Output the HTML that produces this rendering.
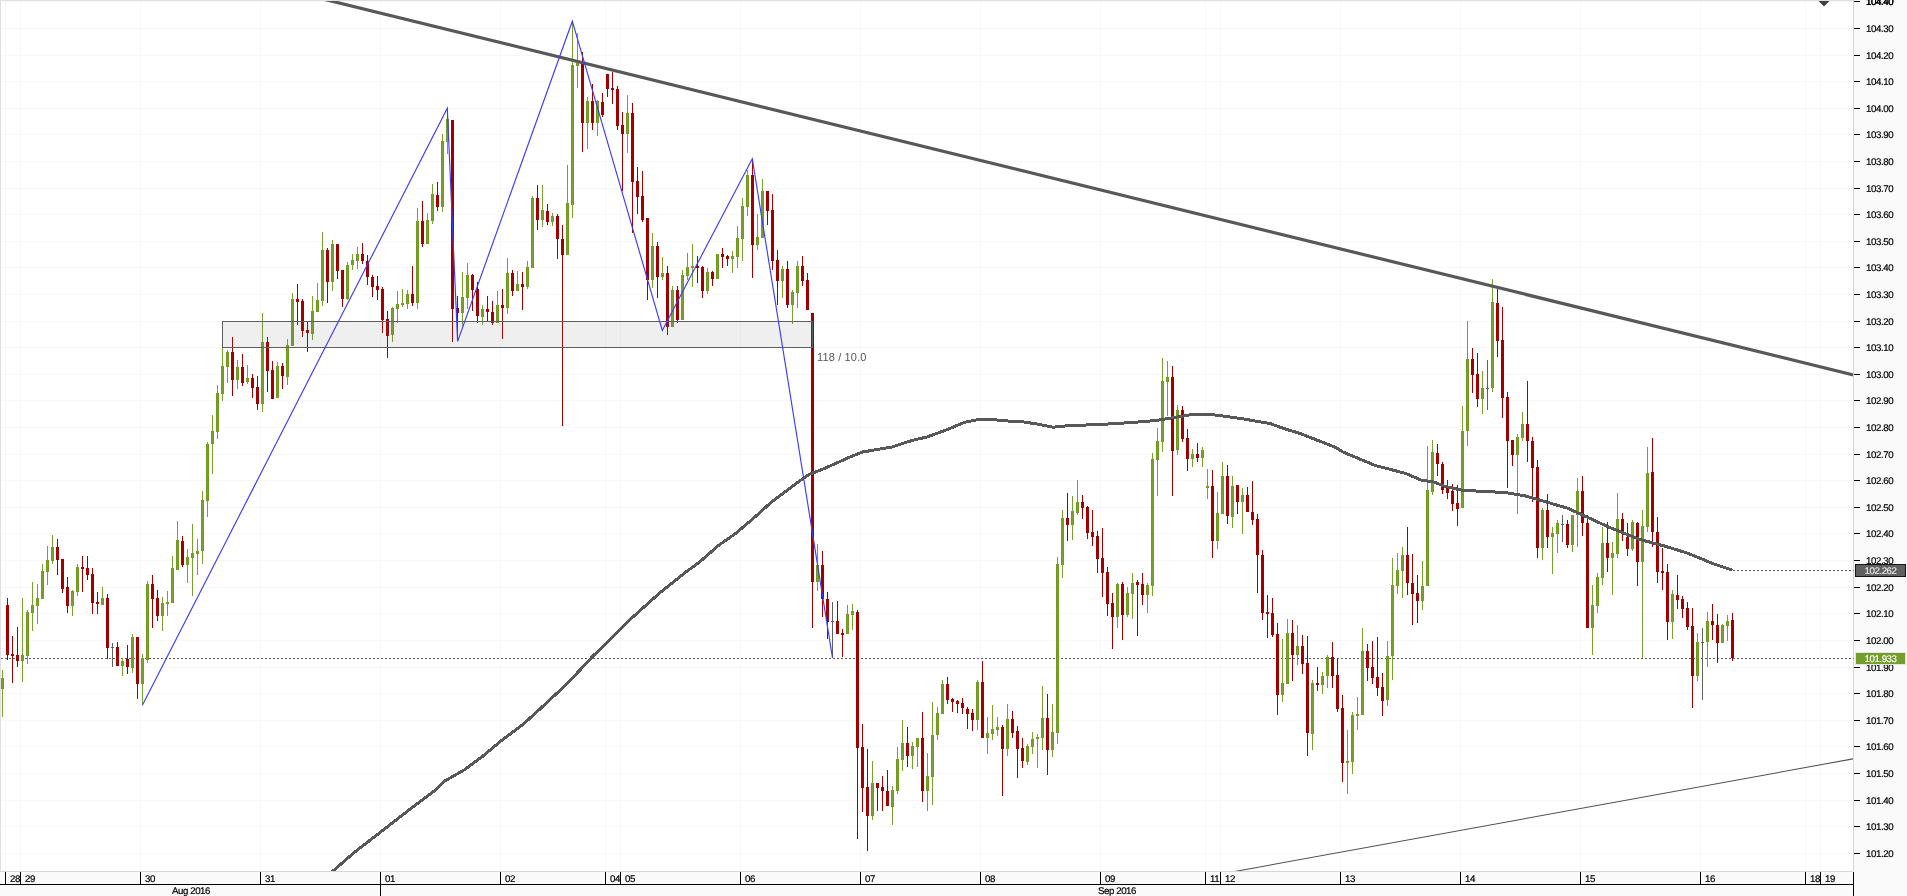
<!DOCTYPE html>
<html><head><meta charset="utf-8"><title>chart</title>
<style>
html,body{margin:0;padding:0;background:#fff;}
body{width:1907px;height:896px;position:relative;overflow:hidden;font-family:"Liberation Sans",sans-serif;}
.pl{position:absolute;left:1866px;font-size:9.7px;line-height:10px;height:10px;color:#000;letter-spacing:-0.42px;text-rendering:geometricPrecision;-webkit-text-stroke:0.2px #000;white-space:nowrap}
.dl{position:absolute;top:875px;font-size:9.7px;line-height:10px;color:#000;letter-spacing:-0.42px;text-rendering:geometricPrecision;-webkit-text-stroke:0.2px #000;white-space:nowrap}
.ml{position:absolute;top:887px;font-size:9.7px;line-height:10px;color:#000;text-align:center;white-space:nowrap;letter-spacing:-0.42px;text-rendering:geometricPrecision;-webkit-text-stroke:0.2px #000}
.bx{position:absolute;left:1855px;width:49px;height:9px;padding-top:2px;border:1px solid #000;text-align:center;font-size:9.7px;line-height:10px;letter-spacing:-0.42px;text-rendering:geometricPrecision;white-space:nowrap;-webkit-text-stroke:0.15px currentColor}
.rr{position:absolute;left:817px;top:351px;font-size:11px;line-height:12px;color:#555;letter-spacing:0.15px;white-space:nowrap}
</style></head><body>
<svg width="1907" height="896" viewBox="0 0 1907 896" style="position:absolute;left:0;top:0"><g fill="#f8f8f8" shape-rendering="crispEdges"><rect x="1" y="853" width="1852" height="1"/><rect x="1" y="826" width="1852" height="1"/><rect x="1" y="800" width="1852" height="1"/><rect x="1" y="773" width="1852" height="1"/><rect x="1" y="746" width="1852" height="1"/><rect x="1" y="720" width="1852" height="1"/><rect x="1" y="693" width="1852" height="1"/><rect x="1" y="667" width="1852" height="1"/><rect x="1" y="640" width="1852" height="1"/><rect x="1" y="613" width="1852" height="1"/><rect x="1" y="587" width="1852" height="1"/><rect x="1" y="560" width="1852" height="1"/><rect x="1" y="533" width="1852" height="1"/><rect x="1" y="507" width="1852" height="1"/><rect x="1" y="480" width="1852" height="1"/><rect x="1" y="454" width="1852" height="1"/><rect x="1" y="427" width="1852" height="1"/><rect x="1" y="400" width="1852" height="1"/><rect x="1" y="374" width="1852" height="1"/><rect x="1" y="347" width="1852" height="1"/><rect x="1" y="321" width="1852" height="1"/><rect x="1" y="294" width="1852" height="1"/><rect x="1" y="267" width="1852" height="1"/><rect x="1" y="241" width="1852" height="1"/><rect x="1" y="214" width="1852" height="1"/><rect x="1" y="188" width="1852" height="1"/><rect x="1" y="161" width="1852" height="1"/><rect x="1" y="134" width="1852" height="1"/><rect x="1" y="108" width="1852" height="1"/><rect x="1" y="81" width="1852" height="1"/><rect x="1" y="55" width="1852" height="1"/><rect x="1" y="28" width="1852" height="1"/><rect x="1" y="1" width="1852" height="1"/><rect x="5" y="1" width="1" height="870"/><rect x="20" y="1" width="1" height="870"/><rect x="140" y="1" width="1" height="870"/><rect x="260" y="1" width="1" height="870"/><rect x="380" y="1" width="1" height="870"/><rect x="500" y="1" width="1" height="870"/><rect x="605" y="1" width="1" height="870"/><rect x="620" y="1" width="1" height="870"/><rect x="740" y="1" width="1" height="870"/><rect x="860" y="1" width="1" height="870"/><rect x="980" y="1" width="1" height="870"/><rect x="1100" y="1" width="1" height="870"/><rect x="1205" y="1" width="1" height="870"/><rect x="1220" y="1" width="1" height="870"/><rect x="1340" y="1" width="1" height="870"/><rect x="1460" y="1" width="1" height="870"/><rect x="1580" y="1" width="1" height="870"/><rect x="1700" y="1" width="1" height="870"/><rect x="1805" y="1" width="1" height="870"/><rect x="1820" y="1" width="1" height="870"/></g><path d="M1 658.5H1853" stroke="#5a5a5a" stroke-width="1" stroke-dasharray="2 2" shape-rendering="crispEdges"/><g fill="#70991f" shape-rendering="crispEdges"><rect x="1" y="678" width="3" height="11"/><rect x="21" y="655" width="3" height="6"/><rect x="26" y="612" width="3" height="44"/><rect x="31" y="605" width="3" height="8"/><rect x="36" y="598" width="3" height="8"/><rect x="41" y="571" width="3" height="28"/><rect x="46" y="560" width="3" height="12"/><rect x="51" y="547" width="3" height="14"/><rect x="71" y="591" width="3" height="15"/><rect x="76" y="567" width="3" height="25"/><rect x="101" y="598" width="3" height="7"/><rect x="121" y="661" width="3" height="5"/><rect x="131" y="637" width="3" height="31"/><rect x="141" y="658" width="3" height="26"/><rect x="146" y="584" width="3" height="76"/><rect x="161" y="603" width="3" height="13"/><rect x="166" y="602" width="3" height="2"/><rect x="171" y="568" width="3" height="35"/><rect x="176" y="540" width="3" height="30"/><rect x="186" y="557" width="3" height="8"/><rect x="191" y="553" width="3" height="5"/><rect x="196" y="551" width="3" height="3"/><rect x="201" y="500" width="3" height="51"/><rect x="206" y="444" width="3" height="57"/><rect x="211" y="431" width="3" height="13"/><rect x="216" y="393" width="3" height="39"/><rect x="221" y="366" width="3" height="28"/><rect x="226" y="352" width="3" height="15"/><rect x="236" y="367" width="3" height="13"/><rect x="246" y="378" width="3" height="4"/><rect x="261" y="342" width="3" height="62"/><rect x="276" y="366" width="3" height="32"/><rect x="286" y="345" width="3" height="32"/><rect x="291" y="299" width="3" height="47"/><rect x="311" y="311" width="3" height="23"/><rect x="316" y="300" width="3" height="12"/><rect x="321" y="250" width="3" height="51"/><rect x="331" y="244" width="3" height="38"/><rect x="346" y="265" width="3" height="34"/><rect x="351" y="260" width="3" height="5"/><rect x="356" y="254" width="3" height="7"/><rect x="391" y="308" width="3" height="27"/><rect x="396" y="304" width="3" height="5"/><rect x="401" y="303" width="3" height="2"/><rect x="406" y="294" width="3" height="10"/><rect x="416" y="221" width="3" height="82"/><rect x="426" y="220" width="3" height="24"/><rect x="431" y="194" width="3" height="27"/><rect x="441" y="141" width="3" height="66"/><rect x="446" y="119" width="3" height="23"/><rect x="461" y="297" width="3" height="16"/><rect x="466" y="275" width="3" height="23"/><rect x="481" y="309" width="3" height="8"/><rect x="496" y="305" width="3" height="18"/><rect x="506" y="273" width="3" height="35"/><rect x="516" y="284" width="3" height="7"/><rect x="526" y="267" width="3" height="20"/><rect x="531" y="198" width="3" height="70"/><rect x="541" y="210" width="3" height="10"/><rect x="551" y="216" width="3" height="6"/><rect x="566" y="203" width="3" height="52"/><rect x="571" y="65" width="3" height="140"/><rect x="576" y="63" width="3" height="3"/><rect x="586" y="101" width="3" height="22"/><rect x="596" y="101" width="3" height="22"/><rect x="626" y="113" width="3" height="21"/><rect x="651" y="246" width="3" height="34"/><rect x="661" y="273" width="3" height="4"/><rect x="671" y="290" width="3" height="37"/><rect x="681" y="275" width="3" height="45"/><rect x="686" y="267" width="3" height="9"/><rect x="691" y="266" width="3" height="2"/><rect x="706" y="272" width="3" height="19"/><rect x="716" y="254" width="3" height="25"/><rect x="731" y="256" width="3" height="3"/><rect x="736" y="238" width="3" height="19"/><rect x="741" y="206" width="3" height="33"/><rect x="746" y="175" width="3" height="32"/><rect x="756" y="237" width="3" height="8"/><rect x="761" y="191" width="3" height="47"/><rect x="781" y="269" width="3" height="12"/><rect x="791" y="292" width="3" height="13"/><rect x="796" y="266" width="3" height="27"/><rect x="816" y="565" width="3" height="17"/><rect x="846" y="614" width="3" height="20"/><rect x="851" y="611" width="3" height="4"/><rect x="871" y="783" width="3" height="33"/><rect x="891" y="790" width="3" height="17"/><rect x="896" y="759" width="3" height="32"/><rect x="901" y="743" width="3" height="17"/><rect x="911" y="746" width="3" height="10"/><rect x="916" y="738" width="3" height="9"/><rect x="926" y="776" width="3" height="15"/><rect x="931" y="735" width="3" height="42"/><rect x="936" y="713" width="3" height="22"/><rect x="941" y="684" width="3" height="30"/><rect x="976" y="682" width="3" height="38"/><rect x="986" y="733" width="3" height="5"/><rect x="991" y="729" width="3" height="5"/><rect x="996" y="727" width="3" height="3"/><rect x="1006" y="719" width="3" height="30"/><rect x="1026" y="746" width="3" height="16"/><rect x="1031" y="739" width="3" height="8"/><rect x="1036" y="737" width="3" height="2"/><rect x="1041" y="718" width="3" height="20"/><rect x="1051" y="732" width="3" height="18"/><rect x="1056" y="564" width="3" height="169"/><rect x="1061" y="518" width="3" height="47"/><rect x="1071" y="511" width="3" height="14"/><rect x="1076" y="502" width="3" height="11"/><rect x="1116" y="584" width="3" height="33"/><rect x="1126" y="593" width="3" height="22"/><rect x="1131" y="583" width="3" height="11"/><rect x="1146" y="585" width="3" height="10"/><rect x="1151" y="459" width="3" height="127"/><rect x="1156" y="441" width="3" height="19"/><rect x="1161" y="381" width="3" height="61"/><rect x="1166" y="377" width="3" height="5"/><rect x="1176" y="410" width="3" height="40"/><rect x="1191" y="454" width="3" height="5"/><rect x="1201" y="450" width="3" height="8"/><rect x="1206" y="486" width="3" height="2"/><rect x="1216" y="513" width="3" height="28"/><rect x="1221" y="476" width="3" height="38"/><rect x="1231" y="486" width="3" height="31"/><rect x="1241" y="495" width="3" height="7"/><rect x="1281" y="683" width="3" height="12"/><rect x="1286" y="633" width="3" height="51"/><rect x="1296" y="646" width="3" height="9"/><rect x="1311" y="683" width="3" height="51"/><rect x="1321" y="676" width="3" height="9"/><rect x="1326" y="657" width="3" height="19"/><rect x="1346" y="761" width="3" height="2"/><rect x="1351" y="715" width="3" height="47"/><rect x="1356" y="714" width="3" height="2"/><rect x="1361" y="651" width="3" height="64"/><rect x="1386" y="656" width="3" height="44"/><rect x="1391" y="585" width="3" height="71"/><rect x="1396" y="570" width="3" height="16"/><rect x="1401" y="555" width="3" height="16"/><rect x="1421" y="586" width="3" height="15"/><rect x="1426" y="490" width="3" height="96"/><rect x="1431" y="452" width="3" height="40"/><rect x="1461" y="431" width="3" height="77"/><rect x="1466" y="359" width="3" height="72"/><rect x="1481" y="388" width="3" height="11"/><rect x="1491" y="302" width="3" height="86"/><rect x="1516" y="437" width="3" height="18"/><rect x="1521" y="424" width="3" height="14"/><rect x="1541" y="510" width="3" height="38"/><rect x="1551" y="533" width="3" height="4"/><rect x="1556" y="523" width="3" height="11"/><rect x="1571" y="515" width="3" height="30"/><rect x="1576" y="491" width="3" height="24"/><rect x="1591" y="605" width="3" height="23"/><rect x="1596" y="577" width="3" height="29"/><rect x="1601" y="543" width="3" height="35"/><rect x="1611" y="553" width="3" height="5"/><rect x="1616" y="519" width="3" height="35"/><rect x="1631" y="522" width="3" height="27"/><rect x="1641" y="526" width="3" height="36"/><rect x="1646" y="473" width="3" height="54"/><rect x="1671" y="594" width="3" height="28"/><rect x="1696" y="642" width="3" height="34"/><rect x="1706" y="621" width="3" height="21"/><rect x="1721" y="625" width="3" height="18"/><rect x="1726" y="621" width="3" height="5"/></g><g fill="#7aa12e" shape-rendering="crispEdges"><rect x="2" y="670" width="1" height="47"/><rect x="22" y="598" width="1" height="84"/><rect x="27" y="610" width="1" height="54"/><rect x="32" y="582" width="1" height="49"/><rect x="37" y="584" width="1" height="40"/><rect x="42" y="564" width="1" height="35"/><rect x="47" y="546" width="1" height="39"/><rect x="52" y="535" width="1" height="29"/><rect x="72" y="590" width="1" height="26"/><rect x="77" y="564" width="1" height="32"/><rect x="102" y="587" width="1" height="18"/><rect x="122" y="658" width="1" height="18"/><rect x="132" y="634" width="1" height="39"/><rect x="142" y="654" width="1" height="50"/><rect x="147" y="581" width="1" height="82"/><rect x="162" y="597" width="1" height="34"/><rect x="167" y="591" width="1" height="25"/><rect x="172" y="556" width="1" height="47"/><rect x="177" y="521" width="1" height="49"/><rect x="187" y="549" width="1" height="34"/><rect x="192" y="524" width="1" height="72"/><rect x="197" y="539" width="1" height="36"/><rect x="202" y="491" width="1" height="73"/><rect x="207" y="442" width="1" height="75"/><rect x="212" y="415" width="1" height="59"/><rect x="217" y="385" width="1" height="54"/><rect x="222" y="348" width="1" height="53"/><rect x="227" y="350" width="1" height="33"/><rect x="237" y="360" width="1" height="29"/><rect x="247" y="365" width="1" height="19"/><rect x="262" y="313" width="1" height="99"/><rect x="277" y="362" width="1" height="36"/><rect x="287" y="339" width="1" height="46"/><rect x="292" y="293" width="1" height="53"/><rect x="312" y="296" width="1" height="44"/><rect x="317" y="283" width="1" height="29"/><rect x="322" y="232" width="1" height="74"/><rect x="332" y="240" width="1" height="51"/><rect x="347" y="262" width="1" height="38"/><rect x="352" y="254" width="1" height="16"/><rect x="357" y="247" width="1" height="22"/><rect x="392" y="307" width="1" height="35"/><rect x="397" y="291" width="1" height="32"/><rect x="402" y="289" width="1" height="18"/><rect x="407" y="290" width="1" height="19"/><rect x="417" y="208" width="1" height="101"/><rect x="427" y="213" width="1" height="31"/><rect x="432" y="184" width="1" height="40"/><rect x="442" y="134" width="1" height="78"/><rect x="447" y="108" width="1" height="46"/><rect x="462" y="272" width="1" height="54"/><rect x="467" y="263" width="1" height="46"/><rect x="482" y="305" width="1" height="20"/><rect x="497" y="291" width="1" height="32"/><rect x="507" y="258" width="1" height="56"/><rect x="517" y="271" width="1" height="20"/><rect x="527" y="261" width="1" height="28"/><rect x="532" y="196" width="1" height="72"/><rect x="542" y="185" width="1" height="42"/><rect x="552" y="213" width="1" height="13"/><rect x="567" y="165" width="1" height="90"/><rect x="572" y="21" width="1" height="197"/><rect x="577" y="33" width="1" height="55"/><rect x="587" y="97" width="1" height="52"/><rect x="597" y="100" width="1" height="36"/><rect x="627" y="95" width="1" height="58"/><rect x="652" y="233" width="1" height="55"/><rect x="662" y="257" width="1" height="23"/><rect x="672" y="286" width="1" height="41"/><rect x="682" y="270" width="1" height="50"/><rect x="687" y="253" width="1" height="27"/><rect x="692" y="244" width="1" height="43"/><rect x="707" y="268" width="1" height="26"/><rect x="717" y="254" width="1" height="25"/><rect x="732" y="251" width="1" height="22"/><rect x="737" y="226" width="1" height="42"/><rect x="742" y="198" width="1" height="63"/><rect x="747" y="170" width="1" height="46"/><rect x="757" y="214" width="1" height="36"/><rect x="762" y="179" width="1" height="59"/><rect x="782" y="266" width="1" height="32"/><rect x="792" y="290" width="1" height="34"/><rect x="797" y="261" width="1" height="47"/><rect x="817" y="544" width="1" height="47"/><rect x="847" y="605" width="1" height="29"/><rect x="852" y="604" width="1" height="26"/><rect x="872" y="761" width="1" height="59"/><rect x="892" y="786" width="1" height="39"/><rect x="897" y="747" width="1" height="47"/><rect x="902" y="720" width="1" height="51"/><rect x="912" y="742" width="1" height="27"/><rect x="917" y="738" width="1" height="29"/><rect x="927" y="753" width="1" height="58"/><rect x="932" y="702" width="1" height="103"/><rect x="937" y="707" width="1" height="33"/><rect x="942" y="680" width="1" height="34"/><rect x="977" y="680" width="1" height="50"/><rect x="987" y="717" width="1" height="37"/><rect x="992" y="705" width="1" height="35"/><rect x="997" y="717" width="1" height="19"/><rect x="1007" y="704" width="1" height="52"/><rect x="1027" y="744" width="1" height="21"/><rect x="1032" y="732" width="1" height="22"/><rect x="1037" y="734" width="1" height="34"/><rect x="1042" y="686" width="1" height="64"/><rect x="1052" y="704" width="1" height="53"/><rect x="1057" y="557" width="1" height="187"/><rect x="1062" y="510" width="1" height="68"/><rect x="1072" y="496" width="1" height="44"/><rect x="1077" y="480" width="1" height="35"/><rect x="1117" y="583" width="1" height="45"/><rect x="1127" y="587" width="1" height="30"/><rect x="1132" y="573" width="1" height="46"/><rect x="1147" y="583" width="1" height="30"/><rect x="1152" y="453" width="1" height="143"/><rect x="1157" y="428" width="1" height="68"/><rect x="1162" y="358" width="1" height="94"/><rect x="1167" y="361" width="1" height="55"/><rect x="1177" y="405" width="1" height="50"/><rect x="1192" y="449" width="1" height="18"/><rect x="1202" y="447" width="1" height="20"/><rect x="1207" y="469" width="1" height="30"/><rect x="1217" y="492" width="1" height="57"/><rect x="1222" y="462" width="1" height="52"/><rect x="1232" y="476" width="1" height="52"/><rect x="1242" y="488" width="1" height="46"/><rect x="1282" y="639" width="1" height="63"/><rect x="1287" y="619" width="1" height="65"/><rect x="1297" y="625" width="1" height="40"/><rect x="1312" y="680" width="1" height="70"/><rect x="1322" y="672" width="1" height="22"/><rect x="1327" y="655" width="1" height="33"/><rect x="1347" y="730" width="1" height="64"/><rect x="1352" y="712" width="1" height="62"/><rect x="1357" y="697" width="1" height="33"/><rect x="1362" y="628" width="1" height="87"/><rect x="1387" y="641" width="1" height="65"/><rect x="1392" y="558" width="1" height="122"/><rect x="1397" y="553" width="1" height="41"/><rect x="1402" y="547" width="1" height="51"/><rect x="1422" y="561" width="1" height="49"/><rect x="1427" y="446" width="1" height="140"/><rect x="1432" y="440" width="1" height="55"/><rect x="1462" y="406" width="1" height="102"/><rect x="1467" y="321" width="1" height="125"/><rect x="1482" y="371" width="1" height="43"/><rect x="1492" y="279" width="1" height="113"/><rect x="1517" y="434" width="1" height="80"/><rect x="1522" y="412" width="1" height="29"/><rect x="1542" y="508" width="1" height="52"/><rect x="1552" y="527" width="1" height="47"/><rect x="1557" y="520" width="1" height="33"/><rect x="1572" y="515" width="1" height="37"/><rect x="1577" y="478" width="1" height="69"/><rect x="1592" y="585" width="1" height="70"/><rect x="1597" y="573" width="1" height="40"/><rect x="1602" y="527" width="1" height="58"/><rect x="1612" y="542" width="1" height="53"/><rect x="1617" y="493" width="1" height="65"/><rect x="1632" y="520" width="1" height="31"/><rect x="1642" y="510" width="1" height="148"/><rect x="1647" y="447" width="1" height="85"/><rect x="1672" y="590" width="1" height="49"/><rect x="1697" y="633" width="1" height="48"/><rect x="1707" y="612" width="1" height="55"/><rect x="1722" y="624" width="1" height="19"/><rect x="1727" y="615" width="1" height="26"/></g><g fill="#a00000" shape-rendering="crispEdges"><rect x="7" y="598" width="1" height="62"/><rect x="6" y="605" width="3" height="50"/><rect x="12" y="636" width="1" height="47"/><rect x="11" y="654" width="3" height="2"/><rect x="17" y="627" width="1" height="40"/><rect x="16" y="655" width="3" height="6"/><rect x="57" y="539" width="1" height="36"/><rect x="56" y="547" width="3" height="13"/><rect x="62" y="559" width="1" height="34"/><rect x="61" y="559" width="3" height="30"/><rect x="67" y="577" width="1" height="36"/><rect x="66" y="587" width="3" height="19"/><rect x="82" y="556" width="1" height="36"/><rect x="81" y="567" width="3" height="2"/><rect x="87" y="556" width="1" height="24"/><rect x="86" y="568" width="3" height="7"/><rect x="92" y="568" width="1" height="46"/><rect x="91" y="574" width="3" height="29"/><rect x="97" y="592" width="1" height="22"/><rect x="96" y="602" width="3" height="2"/><rect x="107" y="594" width="1" height="65"/><rect x="106" y="598" width="3" height="50"/><rect x="117" y="642" width="1" height="24"/><rect x="116" y="647" width="3" height="19"/><rect x="127" y="645" width="1" height="29"/><rect x="126" y="659" width="3" height="8"/><rect x="137" y="637" width="1" height="62"/><rect x="136" y="637" width="3" height="47"/><rect x="152" y="575" width="1" height="53"/><rect x="151" y="584" width="3" height="15"/><rect x="157" y="590" width="1" height="31"/><rect x="156" y="598" width="3" height="18"/><rect x="182" y="536" width="1" height="31"/><rect x="181" y="541" width="3" height="24"/><rect x="232" y="337" width="1" height="59"/><rect x="231" y="352" width="3" height="28"/><rect x="242" y="354" width="1" height="32"/><rect x="241" y="367" width="3" height="16"/><rect x="252" y="374" width="1" height="24"/><rect x="251" y="378" width="3" height="10"/><rect x="257" y="376" width="1" height="34"/><rect x="256" y="387" width="3" height="17"/><rect x="267" y="337" width="1" height="55"/><rect x="266" y="342" width="3" height="29"/><rect x="272" y="361" width="1" height="38"/><rect x="271" y="370" width="3" height="29"/><rect x="282" y="363" width="1" height="26"/><rect x="281" y="366" width="3" height="10"/><rect x="297" y="284" width="1" height="41"/><rect x="296" y="299" width="3" height="3"/><rect x="302" y="299" width="1" height="38"/><rect x="301" y="301" width="3" height="30"/><rect x="307" y="322" width="1" height="30"/><rect x="306" y="330" width="3" height="3"/><rect x="327" y="248" width="1" height="55"/><rect x="326" y="250" width="3" height="32"/><rect x="337" y="244" width="1" height="35"/><rect x="336" y="244" width="3" height="27"/><rect x="342" y="270" width="1" height="37"/><rect x="341" y="270" width="3" height="29"/><rect x="362" y="243" width="1" height="21"/><rect x="361" y="254" width="3" height="7"/><rect x="367" y="255" width="1" height="30"/><rect x="366" y="261" width="3" height="16"/><rect x="372" y="275" width="1" height="22"/><rect x="371" y="277" width="3" height="10"/><rect x="377" y="276" width="1" height="24"/><rect x="376" y="286" width="3" height="4"/><rect x="382" y="287" width="1" height="46"/><rect x="381" y="289" width="3" height="31"/><rect x="387" y="311" width="1" height="47"/><rect x="386" y="319" width="3" height="17"/><rect x="412" y="266" width="1" height="40"/><rect x="411" y="294" width="3" height="9"/><rect x="422" y="201" width="1" height="46"/><rect x="421" y="221" width="3" height="23"/><rect x="437" y="182" width="1" height="29"/><rect x="436" y="195" width="3" height="12"/><rect x="452" y="120" width="1" height="222"/><rect x="451" y="120" width="3" height="189"/><rect x="457" y="296" width="1" height="45"/><rect x="456" y="308" width="3" height="5"/><rect x="472" y="274" width="1" height="37"/><rect x="471" y="275" width="3" height="15"/><rect x="477" y="282" width="1" height="41"/><rect x="476" y="289" width="3" height="27"/><rect x="487" y="296" width="1" height="26"/><rect x="486" y="309" width="3" height="3"/><rect x="492" y="301" width="1" height="24"/><rect x="491" y="312" width="3" height="11"/><rect x="502" y="289" width="1" height="50"/><rect x="501" y="305" width="3" height="3"/><rect x="512" y="270" width="1" height="26"/><rect x="511" y="273" width="3" height="18"/><rect x="522" y="272" width="1" height="38"/><rect x="521" y="284" width="3" height="3"/><rect x="537" y="185" width="1" height="45"/><rect x="536" y="198" width="3" height="22"/><rect x="547" y="204" width="1" height="21"/><rect x="546" y="211" width="3" height="11"/><rect x="557" y="214" width="1" height="45"/><rect x="556" y="216" width="3" height="23"/><rect x="562" y="225" width="1" height="201"/><rect x="561" y="239" width="3" height="16"/><rect x="582" y="52" width="1" height="100"/><rect x="581" y="64" width="3" height="59"/><rect x="592" y="84" width="1" height="46"/><rect x="591" y="101" width="3" height="22"/><rect x="602" y="93" width="1" height="24"/><rect x="601" y="102" width="3" height="13"/><rect x="607" y="74" width="1" height="23"/><rect x="606" y="74" width="3" height="15"/><rect x="612" y="72" width="1" height="32"/><rect x="611" y="88" width="3" height="2"/><rect x="617" y="86" width="1" height="44"/><rect x="616" y="89" width="3" height="37"/><rect x="622" y="112" width="1" height="79"/><rect x="621" y="125" width="3" height="9"/><rect x="632" y="103" width="1" height="130"/><rect x="631" y="113" width="3" height="69"/><rect x="637" y="167" width="1" height="47"/><rect x="636" y="181" width="3" height="16"/><rect x="642" y="171" width="1" height="51"/><rect x="641" y="196" width="3" height="24"/><rect x="647" y="218" width="1" height="82"/><rect x="646" y="218" width="3" height="62"/><rect x="657" y="242" width="1" height="56"/><rect x="656" y="246" width="3" height="31"/><rect x="667" y="266" width="1" height="69"/><rect x="666" y="273" width="3" height="54"/><rect x="677" y="286" width="1" height="37"/><rect x="676" y="290" width="3" height="30"/><rect x="697" y="256" width="1" height="27"/><rect x="696" y="266" width="3" height="2"/><rect x="702" y="266" width="1" height="32"/><rect x="701" y="267" width="3" height="24"/><rect x="712" y="271" width="1" height="15"/><rect x="711" y="272" width="3" height="7"/><rect x="722" y="248" width="1" height="20"/><rect x="721" y="254" width="3" height="3"/><rect x="727" y="255" width="1" height="11"/><rect x="726" y="256" width="3" height="3"/><rect x="752" y="159" width="1" height="119"/><rect x="751" y="175" width="3" height="70"/><rect x="767" y="191" width="1" height="34"/><rect x="766" y="191" width="3" height="20"/><rect x="772" y="194" width="1" height="76"/><rect x="771" y="210" width="3" height="51"/><rect x="777" y="250" width="1" height="55"/><rect x="776" y="260" width="3" height="21"/><rect x="787" y="261" width="1" height="47"/><rect x="786" y="269" width="3" height="36"/><rect x="802" y="256" width="1" height="30"/><rect x="801" y="266" width="3" height="15"/><rect x="807" y="273" width="1" height="37"/><rect x="806" y="280" width="3" height="30"/><rect x="812" y="313" width="1" height="315"/><rect x="811" y="313" width="3" height="269"/><rect x="822" y="551" width="1" height="66"/><rect x="821" y="565" width="3" height="34"/><rect x="827" y="592" width="1" height="47"/><rect x="826" y="599" width="3" height="23"/><rect x="837" y="601" width="1" height="33"/><rect x="836" y="621" width="3" height="13"/><rect x="842" y="629" width="1" height="28"/><rect x="841" y="633" width="3" height="2"/><rect x="857" y="610" width="1" height="229"/><rect x="856" y="612" width="3" height="136"/><rect x="862" y="724" width="1" height="88"/><rect x="861" y="747" width="3" height="41"/><rect x="867" y="749" width="1" height="102"/><rect x="866" y="787" width="3" height="29"/><rect x="877" y="783" width="1" height="28"/><rect x="876" y="783" width="3" height="5"/><rect x="882" y="776" width="1" height="35"/><rect x="881" y="787" width="3" height="4"/><rect x="887" y="770" width="1" height="36"/><rect x="886" y="791" width="3" height="15"/><rect x="907" y="727" width="1" height="40"/><rect x="906" y="743" width="3" height="13"/><rect x="922" y="712" width="1" height="90"/><rect x="921" y="738" width="3" height="53"/><rect x="947" y="677" width="1" height="27"/><rect x="946" y="684" width="3" height="16"/><rect x="952" y="698" width="1" height="14"/><rect x="951" y="699" width="3" height="3"/><rect x="957" y="700" width="1" height="13"/><rect x="956" y="701" width="3" height="3"/><rect x="962" y="698" width="1" height="16"/><rect x="961" y="703" width="3" height="5"/><rect x="967" y="707" width="1" height="22"/><rect x="966" y="709" width="3" height="5"/><rect x="972" y="709" width="1" height="22"/><rect x="971" y="713" width="3" height="7"/><rect x="982" y="661" width="1" height="77"/><rect x="981" y="682" width="3" height="56"/><rect x="1002" y="725" width="1" height="71"/><rect x="1001" y="727" width="3" height="22"/><rect x="1012" y="711" width="1" height="27"/><rect x="1011" y="719" width="3" height="14"/><rect x="1017" y="726" width="1" height="52"/><rect x="1016" y="731" width="3" height="18"/><rect x="1022" y="738" width="1" height="30"/><rect x="1021" y="748" width="3" height="13"/><rect x="1047" y="694" width="1" height="81"/><rect x="1046" y="718" width="3" height="32"/><rect x="1067" y="493" width="1" height="48"/><rect x="1066" y="518" width="3" height="7"/><rect x="1082" y="495" width="1" height="24"/><rect x="1081" y="502" width="3" height="6"/><rect x="1087" y="506" width="1" height="33"/><rect x="1086" y="507" width="3" height="26"/><rect x="1092" y="510" width="1" height="36"/><rect x="1091" y="532" width="3" height="5"/><rect x="1097" y="531" width="1" height="42"/><rect x="1096" y="536" width="3" height="23"/><rect x="1102" y="528" width="1" height="69"/><rect x="1101" y="558" width="3" height="15"/><rect x="1107" y="567" width="1" height="49"/><rect x="1106" y="572" width="3" height="32"/><rect x="1112" y="593" width="1" height="56"/><rect x="1111" y="603" width="3" height="14"/><rect x="1122" y="582" width="1" height="58"/><rect x="1121" y="584" width="3" height="31"/><rect x="1137" y="580" width="1" height="56"/><rect x="1136" y="582" width="3" height="3"/><rect x="1142" y="573" width="1" height="32"/><rect x="1141" y="584" width="3" height="11"/><rect x="1172" y="366" width="1" height="130"/><rect x="1171" y="377" width="3" height="74"/><rect x="1182" y="406" width="1" height="36"/><rect x="1181" y="410" width="3" height="29"/><rect x="1187" y="429" width="1" height="42"/><rect x="1186" y="438" width="3" height="21"/><rect x="1197" y="443" width="1" height="19"/><rect x="1196" y="454" width="3" height="4"/><rect x="1212" y="470" width="1" height="88"/><rect x="1211" y="486" width="3" height="55"/><rect x="1227" y="465" width="1" height="59"/><rect x="1226" y="476" width="3" height="40"/><rect x="1237" y="485" width="1" height="29"/><rect x="1236" y="485" width="3" height="17"/><rect x="1247" y="487" width="1" height="25"/><rect x="1246" y="495" width="3" height="17"/><rect x="1252" y="481" width="1" height="44"/><rect x="1251" y="512" width="3" height="8"/><rect x="1257" y="514" width="1" height="79"/><rect x="1256" y="519" width="3" height="36"/><rect x="1262" y="550" width="1" height="70"/><rect x="1261" y="555" width="3" height="58"/><rect x="1267" y="595" width="1" height="43"/><rect x="1266" y="612" width="3" height="2"/><rect x="1272" y="598" width="1" height="39"/><rect x="1271" y="613" width="3" height="22"/><rect x="1277" y="623" width="1" height="92"/><rect x="1276" y="634" width="3" height="61"/><rect x="1292" y="620" width="1" height="61"/><rect x="1291" y="633" width="3" height="22"/><rect x="1302" y="635" width="1" height="39"/><rect x="1301" y="646" width="3" height="18"/><rect x="1307" y="636" width="1" height="120"/><rect x="1306" y="663" width="3" height="70"/><rect x="1317" y="667" width="1" height="24"/><rect x="1316" y="683" width="3" height="2"/><rect x="1332" y="642" width="1" height="46"/><rect x="1331" y="657" width="3" height="19"/><rect x="1337" y="659" width="1" height="53"/><rect x="1336" y="675" width="3" height="34"/><rect x="1342" y="695" width="1" height="87"/><rect x="1341" y="708" width="3" height="55"/><rect x="1367" y="644" width="1" height="37"/><rect x="1366" y="651" width="3" height="17"/><rect x="1372" y="641" width="1" height="43"/><rect x="1371" y="667" width="3" height="11"/><rect x="1377" y="637" width="1" height="59"/><rect x="1376" y="677" width="3" height="11"/><rect x="1382" y="673" width="1" height="43"/><rect x="1381" y="687" width="3" height="14"/><rect x="1407" y="527" width="1" height="68"/><rect x="1406" y="555" width="3" height="28"/><rect x="1412" y="554" width="1" height="71"/><rect x="1411" y="583" width="3" height="11"/><rect x="1417" y="575" width="1" height="48"/><rect x="1416" y="593" width="3" height="8"/><rect x="1437" y="444" width="1" height="32"/><rect x="1436" y="453" width="3" height="11"/><rect x="1442" y="462" width="1" height="32"/><rect x="1441" y="464" width="3" height="26"/><rect x="1447" y="480" width="1" height="19"/><rect x="1446" y="487" width="3" height="6"/><rect x="1452" y="484" width="1" height="27"/><rect x="1451" y="491" width="3" height="13"/><rect x="1457" y="485" width="1" height="41"/><rect x="1456" y="503" width="3" height="6"/><rect x="1472" y="348" width="1" height="45"/><rect x="1471" y="359" width="3" height="16"/><rect x="1477" y="353" width="1" height="54"/><rect x="1476" y="374" width="3" height="25"/><rect x="1497" y="289" width="1" height="68"/><rect x="1496" y="303" width="3" height="38"/><rect x="1502" y="307" width="1" height="111"/><rect x="1501" y="340" width="3" height="58"/><rect x="1507" y="392" width="1" height="96"/><rect x="1506" y="397" width="3" height="44"/><rect x="1512" y="440" width="1" height="26"/><rect x="1511" y="440" width="3" height="15"/><rect x="1527" y="381" width="1" height="81"/><rect x="1526" y="424" width="3" height="17"/><rect x="1532" y="437" width="1" height="65"/><rect x="1531" y="441" width="3" height="27"/><rect x="1537" y="460" width="1" height="98"/><rect x="1536" y="467" width="3" height="81"/><rect x="1547" y="494" width="1" height="54"/><rect x="1546" y="510" width="3" height="27"/><rect x="1567" y="520" width="1" height="28"/><rect x="1566" y="524" width="3" height="21"/><rect x="1582" y="476" width="1" height="60"/><rect x="1581" y="491" width="3" height="32"/><rect x="1587" y="515" width="1" height="113"/><rect x="1586" y="523" width="3" height="105"/><rect x="1607" y="522" width="1" height="50"/><rect x="1606" y="543" width="3" height="15"/><rect x="1622" y="513" width="1" height="28"/><rect x="1621" y="519" width="3" height="14"/><rect x="1627" y="523" width="1" height="33"/><rect x="1626" y="537" width="3" height="12"/><rect x="1637" y="522" width="1" height="64"/><rect x="1636" y="523" width="3" height="39"/><rect x="1652" y="438" width="1" height="109"/><rect x="1651" y="472" width="3" height="60"/><rect x="1657" y="517" width="1" height="66"/><rect x="1656" y="532" width="3" height="40"/><rect x="1662" y="548" width="1" height="42"/><rect x="1661" y="571" width="3" height="2"/><rect x="1667" y="564" width="1" height="76"/><rect x="1666" y="572" width="3" height="50"/><rect x="1677" y="575" width="1" height="34"/><rect x="1676" y="595" width="3" height="5"/><rect x="1682" y="596" width="1" height="22"/><rect x="1681" y="599" width="3" height="10"/><rect x="1687" y="602" width="1" height="28"/><rect x="1686" y="608" width="3" height="19"/><rect x="1692" y="608" width="1" height="100"/><rect x="1691" y="626" width="3" height="50"/><rect x="1712" y="604" width="1" height="36"/><rect x="1711" y="621" width="3" height="4"/><rect x="1717" y="614" width="1" height="49"/><rect x="1716" y="625" width="3" height="18"/><rect x="1732" y="613" width="1" height="48"/><rect x="1731" y="620" width="3" height="38"/></g><g fill="#606060" shape-rendering="crispEdges"><rect x="112" y="643" width="1" height="24"/><rect x="111" y="647" width="3" height="1"/><rect x="832" y="602" width="1" height="56"/><rect x="831" y="621" width="3" height="1"/><rect x="1487" y="360" width="1" height="50"/><rect x="1486" y="388" width="3" height="1"/><rect x="1562" y="515" width="1" height="27"/><rect x="1561" y="524" width="3" height="1"/><rect x="1702" y="628" width="1" height="72"/><rect x="1701" y="642" width="3" height="1"/></g><rect x="222.5" y="321.5" width="590" height="26" fill="rgba(110,110,110,0.115)" stroke="#5f5f5f" stroke-width="1" shape-rendering="crispEdges"/><clipPath id="c"><rect x="1" y="1" width="1852" height="870"/></clipPath><g clip-path="url(#c)" fill="none"><polyline points="320,882.5 333,871 354.8,852 380.9,831.8 407,811.5 436,789.7 444.7,781 465,769.4 482.5,756.4 499.9,741.8 523,724.4 540.5,708.5 560.8,689.6 575.3,675 592.7,656.3 600,649.5 629,620.5 658,594.4 687,571.2 699.3,562.3 717.9,545.9 735.7,533.4 753.6,518.2 771.4,502.1 789.3,488.75 800,480.7 808.9,474.5 825,468.2 842.9,460.2 850,457 862.6,452 878.5,449.3 892.6,446.9 911.5,440.6 927.2,436.9 946,430 965,422.2 980.7,419 990,419.3 1005.8,420.9 1021.6,421.7 1037.3,424 1053,427.2 1068.8,425.6 1100,424.5 1131.7,422.5 1155.3,420.6 1180,416.5 1194.7,414 1208,414 1241.6,418.6 1270.6,423.7 1284,428.6 1300,433.4 1336.8,447.9 1342.4,451.8 1355.8,457.4 1375.9,465.8 1389.3,469.1 1406,473.6 1421.6,480.3 1433.9,482 1445,486.4 1462.4,490.3 1504.8,492.5 1525,495.9 1536,499 1567,508 1587,517 1608.5,527 1639.7,539.4 1664.3,546 1686.6,552.8 1715.6,564.6 1732.4,570.2" stroke="#585858" stroke-width="3" stroke-linejoin="round" shape-rendering="crispEdges"/><path d="M320 -1.72 L1862 376.99" stroke="#585858" stroke-width="3.2"/><path d="M1228 872.73 L1853.4 758.8" stroke="#505050" stroke-width="1.05"/><polyline points="142.4,705.3 447.3,108.3 457.6,341.4 572.3,21.2 662.3,330.4 752.3,158.7 832.5,657.9" stroke="#3c3cff" stroke-width="1.15" stroke-linejoin="miter"/></g><path d="M1733 570.5H1853" stroke="#5a5a5a" stroke-width="1" stroke-dasharray="2 2" shape-rendering="crispEdges"/><path d="M1818.5 1 L1829.5 1 L1824 6.5 Z" fill="#404040"/><g shape-rendering="crispEdges"><rect x="1853" y="0" width="54" height="896" fill="#fafafa"/><rect x="0" y="871" width="1907" height="25" fill="#fafafa"/><rect x="0" y="0" width="1854" height="1" fill="#e0e0e0"/><rect x="0" y="0" width="1" height="871" fill="#e0e0e0"/><rect x="1853" y="0" width="1" height="871" fill="#d6d6d6"/><rect x="0" y="871" width="1853" height="1" fill="#d6d6d6"/><rect x="0" y="884" width="1854" height="1" fill="#000"/><rect x="1853" y="872" width="1" height="24" fill="#000"/><rect x="380" y="884" width="1" height="12" fill="#000"/><rect x="5" y="872" width="1" height="13" fill="#000"/><rect x="20" y="872" width="1" height="13" fill="#000"/><rect x="140" y="872" width="1" height="13" fill="#000"/><rect x="260" y="872" width="1" height="13" fill="#000"/><rect x="380" y="872" width="1" height="13" fill="#000"/><rect x="500" y="872" width="1" height="13" fill="#000"/><rect x="605" y="872" width="1" height="13" fill="#000"/><rect x="620" y="872" width="1" height="13" fill="#000"/><rect x="740" y="872" width="1" height="13" fill="#000"/><rect x="860" y="872" width="1" height="13" fill="#000"/><rect x="980" y="872" width="1" height="13" fill="#000"/><rect x="1100" y="872" width="1" height="13" fill="#000"/><rect x="1205" y="872" width="1" height="13" fill="#000"/><rect x="1220" y="872" width="1" height="13" fill="#000"/><rect x="1340" y="872" width="1" height="13" fill="#000"/><rect x="1460" y="872" width="1" height="13" fill="#000"/><rect x="1580" y="872" width="1" height="13" fill="#000"/><rect x="1700" y="872" width="1" height="13" fill="#000"/><rect x="1805" y="872" width="1" height="13" fill="#000"/><rect x="1820" y="872" width="1" height="13" fill="#000"/><rect x="1854" y="853" width="6" height="1" fill="#000"/><rect x="1854" y="826" width="6" height="1" fill="#000"/><rect x="1854" y="800" width="6" height="1" fill="#000"/><rect x="1854" y="773" width="6" height="1" fill="#000"/><rect x="1854" y="746" width="6" height="1" fill="#000"/><rect x="1854" y="720" width="6" height="1" fill="#000"/><rect x="1854" y="693" width="6" height="1" fill="#000"/><rect x="1854" y="667" width="6" height="1" fill="#000"/><rect x="1854" y="640" width="6" height="1" fill="#000"/><rect x="1854" y="613" width="6" height="1" fill="#000"/><rect x="1854" y="587" width="6" height="1" fill="#000"/><rect x="1854" y="560" width="6" height="1" fill="#000"/><rect x="1854" y="533" width="6" height="1" fill="#000"/><rect x="1854" y="507" width="6" height="1" fill="#000"/><rect x="1854" y="480" width="6" height="1" fill="#000"/><rect x="1854" y="454" width="6" height="1" fill="#000"/><rect x="1854" y="427" width="6" height="1" fill="#000"/><rect x="1854" y="400" width="6" height="1" fill="#000"/><rect x="1854" y="374" width="6" height="1" fill="#000"/><rect x="1854" y="347" width="6" height="1" fill="#000"/><rect x="1854" y="321" width="6" height="1" fill="#000"/><rect x="1854" y="294" width="6" height="1" fill="#000"/><rect x="1854" y="267" width="6" height="1" fill="#000"/><rect x="1854" y="241" width="6" height="1" fill="#000"/><rect x="1854" y="214" width="6" height="1" fill="#000"/><rect x="1854" y="188" width="6" height="1" fill="#000"/><rect x="1854" y="161" width="6" height="1" fill="#000"/><rect x="1854" y="134" width="6" height="1" fill="#000"/><rect x="1854" y="108" width="6" height="1" fill="#000"/><rect x="1854" y="81" width="6" height="1" fill="#000"/><rect x="1854" y="55" width="6" height="1" fill="#000"/><rect x="1854" y="28" width="6" height="1" fill="#000"/><rect x="1854" y="1" width="6" height="1" fill="#000"/><rect x="1854" y="1" width="6" height="1" fill="#000"/><rect x="1853" y="658" width="1" height="1" fill="#7a7a7a"/><rect x="1853" y="570" width="1" height="1" fill="#7a7a7a"/></g></svg>
<div style="position:absolute;left:0;top:0;width:1907px;height:896px;will-change:transform"><div class="pl" style="top:850px">101.20</div><div class="pl" style="top:823px">101.30</div><div class="pl" style="top:797px">101.40</div><div class="pl" style="top:770px">101.50</div><div class="pl" style="top:743px">101.60</div><div class="pl" style="top:717px">101.70</div><div class="pl" style="top:690px">101.80</div><div class="pl" style="top:664px">101.90</div><div class="pl" style="top:637px">102.00</div><div class="pl" style="top:610px">102.10</div><div class="pl" style="top:584px">102.20</div><div class="pl" style="top:557px">102.30</div><div class="pl" style="top:530px">102.40</div><div class="pl" style="top:504px">102.50</div><div class="pl" style="top:477px">102.60</div><div class="pl" style="top:451px">102.70</div><div class="pl" style="top:424px">102.80</div><div class="pl" style="top:397px">102.90</div><div class="pl" style="top:371px">103.00</div><div class="pl" style="top:344px">103.10</div><div class="pl" style="top:318px">103.20</div><div class="pl" style="top:291px">103.30</div><div class="pl" style="top:264px">103.40</div><div class="pl" style="top:238px">103.50</div><div class="pl" style="top:211px">103.60</div><div class="pl" style="top:185px">103.70</div><div class="pl" style="top:158px">103.80</div><div class="pl" style="top:131px">103.90</div><div class="pl" style="top:105px">104.00</div><div class="pl" style="top:78px">104.10</div><div class="pl" style="top:52px">104.20</div><div class="pl" style="top:25px">104.30</div><div class="pl" style="top:-2px">104.40</div><div class="pl" style="top:-2px">104.40</div><div class="dl" style="left:10px">28</div><div class="dl" style="left:25px">29</div><div class="dl" style="left:145px">30</div><div class="dl" style="left:265px">31</div><div class="dl" style="left:385px">01</div><div class="dl" style="left:505px">02</div><div class="dl" style="left:610px">04</div><div class="dl" style="left:625px">05</div><div class="dl" style="left:745px">06</div><div class="dl" style="left:865px">07</div><div class="dl" style="left:985px">08</div><div class="dl" style="left:1105px">09</div><div class="dl" style="left:1210px">11</div><div class="dl" style="left:1225px">12</div><div class="dl" style="left:1345px">13</div><div class="dl" style="left:1465px">14</div><div class="dl" style="left:1585px">15</div><div class="dl" style="left:1705px">16</div><div class="dl" style="left:1810px">18</div><div class="dl" style="left:1825px">19</div><div class="ml" style="left:151px;width:80px">Aug 2016</div><div class="ml" style="left:1077px;width:80px">Sep 2016</div><div class="bx" style="top:564px;background:#606060;border-color:#151515;color:#ececec">102.262</div><div class="bx" style="top:652px;background:#749e2a;border-color:#e4e4e8;color:#fff">101.933</div><div class="rr">118 / 10.0</div></div>
</body></html>
